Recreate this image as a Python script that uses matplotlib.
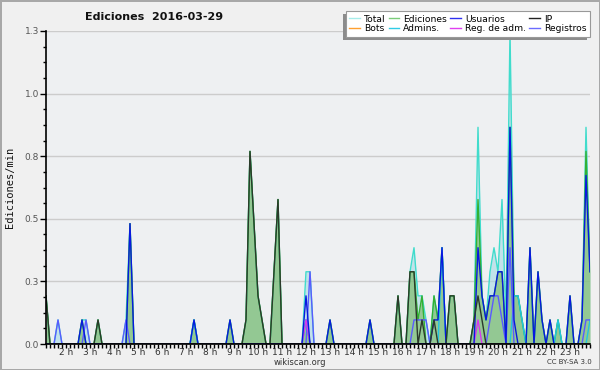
import numpy as np
import matplotlib
matplotlib.use('Agg')
import matplotlib.pyplot as plt
from matplotlib.lines import Line2D
from matplotlib.patches import Rectangle
from matplotlib.ticker import FixedLocator, FuncFormatter

# ---- data: one value every 10 minutes, from 1:10 to 23:50 (edits per minute) ----
start_hour = 7 / 6
step_hour = 1 / 6

hour_labels = ["%d h" % h for h in range(2, 24)]
hour_ticks = list(range(2, 24))

total = [
    0.2, 0, 0, 0.1, 0,                 # 1h
    0, 0, 0, 0, 0.1, 0.1,              # 2h
    0, 0, 0.1, 0, 0, 0,                # 3h
    0, 0, 0, 0.1, 0.5, 0,              # 4h
    0, 0, 0, 0, 0, 0,                  # 5h
    0, 0, 0, 0, 0, 0,                  # 6h
    0, 0, 0.1, 0, 0, 0,                # 7h
    0, 0, 0, 0, 0, 0.1,                # 8h
    0, 0, 0, 0.1, 0.8, 0.5,            # 9h
    0.2, 0.1, 0, 0, 0.3, 0.6,          # 10h
    0, 0, 0, 0, 0, 0,                  # 11h
    0.3, 0.3, 0, 0, 0, 0,              # 12h
    0.1, 0, 0, 0, 0, 0,                # 13h
    0, 0, 0, 0, 0.1, 0,                # 14h
    0, 0, 0, 0, 0, 0.2,                # 15h
    0, 0, 0.3, 0.4, 0.2, 0.2,          # 16h
    0.1, 0, 0.2, 0.1, 0.4, 0,          # 17h
    0.2, 0.2, 0, 0, 0, 0,              # 18h
    0.1, 0.9, 0.2, 0.1, 0.3, 0.4,      # 19h
    0.3, 0.6, 0.1, 1.3, 0.2, 0.2,      # 20h
    0.1, 0, 0.4, 0, 0.3, 0.1,          # 21h
    0, 0.1, 0, 0.1, 0, 0,              # 22h
    0.2, 0, 0, 0.1, 0.9, 0.3,          # 23h
]

ediciones = [
    0.2, 0, 0, 0, 0,
    0, 0, 0, 0, 0.1, 0,
    0, 0, 0.1, 0, 0, 0,
    0, 0, 0, 0, 0.5, 0,
    0, 0, 0, 0, 0, 0,
    0, 0, 0, 0, 0, 0,
    0, 0, 0.1, 0, 0, 0,
    0, 0, 0, 0, 0, 0.1,
    0, 0, 0, 0.1, 0.8, 0.5,
    0.2, 0.1, 0, 0, 0.3, 0.6,
    0, 0, 0, 0, 0, 0,
    0.1, 0, 0, 0, 0, 0,
    0.1, 0, 0, 0, 0, 0,
    0, 0, 0, 0, 0.1, 0,
    0, 0, 0, 0, 0, 0.2,
    0, 0, 0.3, 0.3, 0.1, 0.2,
    0, 0, 0.2, 0.1, 0.4, 0,
    0.2, 0.2, 0, 0, 0, 0,
    0.1, 0.6, 0.2, 0.1, 0.2, 0.2,
    0.3, 0.3, 0, 0.9, 0.2, 0.2,
    0.1, 0, 0.4, 0, 0.3, 0.1,
    0, 0.1, 0, 0.1, 0, 0,
    0.2, 0, 0, 0.1, 0.8, 0.3,
]

usuarios = [
    0, 0, 0, 0, 0,
    0, 0, 0, 0, 0.1, 0,
    0, 0, 0, 0, 0, 0,
    0, 0, 0, 0, 0.5, 0,
    0, 0, 0, 0, 0, 0,
    0, 0, 0, 0, 0, 0,
    0, 0, 0.1, 0, 0, 0,
    0, 0, 0, 0, 0, 0.1,
    0, 0, 0, 0, 0, 0,
    0, 0, 0, 0, 0, 0,
    0, 0, 0, 0, 0, 0,
    0.2, 0, 0, 0, 0, 0,
    0.1, 0, 0, 0, 0, 0,
    0, 0, 0, 0, 0.1, 0,
    0, 0, 0, 0, 0, 0,
    0, 0, 0, 0, 0, 0,
    0, 0, 0.1, 0.1, 0.4, 0,
    0, 0, 0, 0, 0, 0,
    0, 0.4, 0.2, 0.1, 0.2, 0.2,
    0.3, 0.3, 0, 0.9, 0.1, 0,
    0, 0, 0.4, 0, 0.3, 0.1,
    0, 0.1, 0, 0, 0, 0,
    0.2, 0, 0, 0.1, 0.7, 0.3,
]

ip = [
    0.2, 0, 0, 0, 0,
    0, 0, 0, 0, 0, 0,
    0, 0, 0.1, 0, 0, 0,
    0, 0, 0, 0, 0, 0,
    0, 0, 0, 0, 0, 0,
    0, 0, 0, 0, 0, 0,
    0, 0, 0, 0, 0, 0,
    0, 0, 0, 0, 0, 0,
    0, 0, 0, 0.1, 0.8, 0.5,
    0.2, 0.1, 0, 0, 0.3, 0.6,
    0, 0, 0, 0, 0, 0,
    0, 0, 0, 0, 0, 0,
    0, 0, 0, 0, 0, 0,
    0, 0, 0, 0, 0, 0,
    0, 0, 0, 0, 0, 0.2,
    0, 0, 0.3, 0.3, 0, 0.1,
    0, 0, 0.1, 0, 0, 0,
    0.2, 0.2, 0, 0, 0, 0,
    0.1, 0.2, 0.1, 0, 0, 0,
    0, 0, 0, 0, 0, 0,
    0, 0, 0, 0, 0, 0,
    0, 0, 0, 0, 0, 0,
    0, 0, 0, 0, 0, 0,
]

bots = [
    0, 0, 0, 0, 0,
    0, 0, 0, 0, 0, 0,
    0, 0, 0, 0, 0, 0,
    0, 0, 0, 0, 0, 0,
    0, 0, 0, 0, 0, 0,
    0, 0, 0, 0, 0, 0,
    0, 0, 0, 0, 0, 0,
    0, 0, 0, 0, 0, 0,
    0, 0, 0, 0, 0, 0,
    0, 0, 0, 0, 0, 0,
    0, 0, 0, 0, 0, 0,
    0, 0, 0, 0, 0, 0,
    0, 0, 0, 0, 0, 0,
    0, 0, 0, 0, 0, 0,
    0, 0, 0, 0, 0, 0,
    0, 0, 0, 0, 0, 0,
    0, 0, 0, 0, 0, 0,
    0, 0, 0, 0, 0, 0,
    0, 0, 0, 0, 0, 0,
    0, 0, 0, 0, 0, 0,
    0, 0, 0, 0, 0, 0,
    0, 0, 0, 0, 0, 0,
    0, 0, 0, 0, 0, 0,
]

admins = [
    0, 0, 0, 0, 0,
    0, 0, 0, 0, 0, 0,
    0, 0, 0, 0, 0, 0,
    0, 0, 0, 0, 0, 0,
    0, 0, 0, 0, 0, 0,
    0, 0, 0, 0, 0, 0,
    0, 0, 0.1, 0, 0, 0,
    0, 0, 0, 0, 0, 0,
    0, 0, 0, 0, 0, 0,
    0, 0, 0, 0, 0, 0,
    0, 0, 0, 0, 0, 0,
    0.1, 0, 0, 0, 0, 0,
    0, 0, 0, 0, 0, 0,
    0, 0, 0, 0, 0, 0,
    0, 0, 0, 0, 0, 0,
    0, 0, 0, 0, 0, 0,
    0, 0, 0, 0, 0.4, 0,
    0, 0, 0, 0, 0, 0,
    0, 0, 0, 0, 0, 0,
    0, 0, 0, 0, 0.2, 0.2,
    0.1, 0, 0, 0, 0, 0,
    0, 0, 0, 0.1, 0, 0,
    0, 0, 0, 0, 0, 0.1,
]

reg_adm = [
    0, 0, 0, 0, 0,
    0, 0, 0, 0, 0, 0,
    0, 0, 0, 0, 0, 0,
    0, 0, 0, 0, 0, 0,
    0, 0, 0, 0, 0, 0,
    0, 0, 0, 0, 0, 0,
    0, 0, 0, 0, 0, 0,
    0, 0, 0, 0, 0, 0,
    0, 0, 0, 0, 0, 0,
    0, 0, 0, 0, 0, 0,
    0, 0, 0, 0, 0, 0,
    0.1, 0, 0, 0, 0, 0,
    0, 0, 0, 0, 0, 0,
    0, 0, 0, 0, 0, 0,
    0, 0, 0, 0, 0, 0,
    0, 0, 0, 0, 0, 0,
    0, 0, 0, 0, 0, 0,
    0, 0, 0, 0, 0, 0,
    0, 0.1, 0, 0, 0, 0,
    0, 0, 0, 0, 0, 0,
    0, 0, 0, 0, 0, 0,
    0, 0, 0, 0, 0, 0,
    0, 0, 0, 0, 0, 0,
]

registros = [
    0, 0, 0, 0.1, 0,
    0, 0, 0, 0, 0, 0.1,
    0, 0, 0, 0, 0, 0,
    0, 0, 0, 0.1, 0, 0,
    0, 0, 0, 0, 0, 0,
    0, 0, 0, 0, 0, 0,
    0, 0, 0, 0, 0, 0,
    0, 0, 0, 0, 0, 0,
    0, 0, 0, 0, 0, 0,
    0, 0, 0, 0, 0, 0,
    0, 0, 0, 0, 0, 0,
    0, 0.3, 0, 0, 0, 0,
    0, 0, 0, 0, 0, 0,
    0, 0, 0, 0, 0, 0,
    0, 0, 0, 0, 0, 0,
    0, 0, 0, 0.1, 0.1, 0.1,
    0.1, 0, 0, 0, 0, 0,
    0, 0, 0, 0, 0, 0,
    0, 0, 0, 0, 0.1, 0.2,
    0.2, 0.1, 0, 0.4, 0, 0,
    0, 0, 0, 0, 0, 0,
    0, 0, 0, 0, 0, 0,
    0, 0, 0, 0, 0.1, 0.1,
]

series_names = ["Total", "Bots", "Ediciones", "Admins.", "Usuarios",
                "Reg. de adm.", "IP", "Registros"]

y_gridlines = [0, 0.26, 0.52, 0.78, 1.04, 1.3]

# ---- figure ----
W, H = 600, 370
fig = plt.figure(figsize=(W / 100, H / 100), dpi=100, facecolor='#f0f0f0')
fig.patch.set_edgecolor('#a8a8a8')
fig.patch.set_linewidth(2)

ax = fig.add_axes([46 / W, 26 / H, 544 / W, 313 / H])
ax.set_facecolor('#eef0f2')

n = len(total)
x = start_hour + np.arange(n) * step_hour

ax.fill_between(x, total, color='#a6d9e6', alpha=0.6, lw=0, zorder=1)
ax.fill_between(x, ediciones, color='#75b75a', alpha=0.6, lw=0, zorder=2)

lw = 1.0
ax.plot(x, total, color='#40dccc', lw=lw, zorder=3)
ax.plot(x, ediciones, color='#33b033', lw=lw, zorder=4)
ax.plot(x, bots, color='#ffa020', lw=lw, zorder=4)
ax.plot(x, admins, color='#22c4e0', lw=lw, zorder=5)
ax.plot(x, registros, color='#5a5aff', lw=lw, zorder=5)
ax.plot(x, reg_adm, color='#d838ee', lw=lw, zorder=6)
ax.plot(x, usuarios, color='#0818e0', lw=lw, zorder=6)
ax.plot(x, ip, color='#2b3a2b', lw=lw, zorder=7)

ax.set_xlim(x[0], x[-1])
ax.set_ylim(0, 1.3)

for s in ['top', 'right']:
    ax.spines[s].set_visible(False)
for s in ['left', 'bottom']:
    ax.spines[s].set_color('black')
    ax.spines[s].set_linewidth(1.2)
    ax.spines[s].set_zorder(10)

ax.yaxis.set_major_locator(FixedLocator(y_gridlines))
ax.yaxis.set_major_formatter(FuncFormatter(lambda v, p: "%.1f" % v))
ax.yaxis.set_minor_locator(FixedLocator(np.arange(0, 1.31, 0.065)))
ax.grid(axis='y', color='#cccccc', lw=1.0, zorder=0)
ax.set_axisbelow(True)

ax.xaxis.set_major_locator(FixedLocator(hour_ticks))
ax.set_xticklabels(hour_labels)
ax.xaxis.set_minor_locator(FixedLocator(x))

ax.tick_params(axis='y', which='major', direction='out', length=4, width=1,
               labelsize=6.5, labelcolor='#555555', pad=1)
ax.tick_params(axis='y', which='minor', direction='out', length=2.5, width=1)
ax.tick_params(axis='x', which='both', direction='out', length=3, width=1,
               labelsize=6.5, labelcolor='#333333', pad=0)

fig.text(10 / W, 1 - 187 / H, 'Ediciones/min', rotation=90, ha='center',
         va='center', family='DejaVu Sans Mono', fontsize=7.5, color='#111111')
fig.text(154 / W, 1 - 16.5 / H, 'Ediciones  2016-03-29', ha='center',
         va='center', weight='bold', fontsize=8, color='#111111')
fig.text(300 / W, 1 - 362.5 / H, 'wikiscan.org', ha='center', va='center',
         fontsize=6, color='#333333')
fig.text(569 / W, 1 - 362.5 / H, 'CC BY-SA 3.0', ha='center', va='center',
         fontsize=5, color='#333333')

leg_colors = ['#a6ecea', '#ffa030', '#7acc7a', '#30cce6', '#3030f0',
              '#e040f0', '#222222', '#6c6cff']
handles = [Line2D([], [], color=c, lw=1.0) for c in leg_colors]
leg = fig.legend(handles, series_names, ncol=4, loc='upper right',
                 bbox_to_anchor=(590 / W, 1 - 11 / H), fontsize=6.6,
                 frameon=True, fancybox=False, edgecolor='#999999',
                 facecolor='white', framealpha=1, handlelength=1.15,
                 handletextpad=0.45, columnspacing=0.35, borderpad=0.4,
                 labelspacing=0.05, borderaxespad=0)
leg.set_zorder(20)
leg.get_frame().set_linewidth(0.8)

fig.canvas.draw()
bb = leg.get_window_extent()
shadow = Rectangle(((bb.x0 - 3) / W, (bb.y0 - 3) / H), bb.width / W,
                   bb.height / H, transform=fig.transFigure,
                   facecolor='#8c8c8c', edgecolor='none', zorder=19)
fig.add_artist(shadow)

fig.savefig('out.png', dpi=100, facecolor=fig.get_facecolor(),
            edgecolor=fig.patch.get_edgecolor())
